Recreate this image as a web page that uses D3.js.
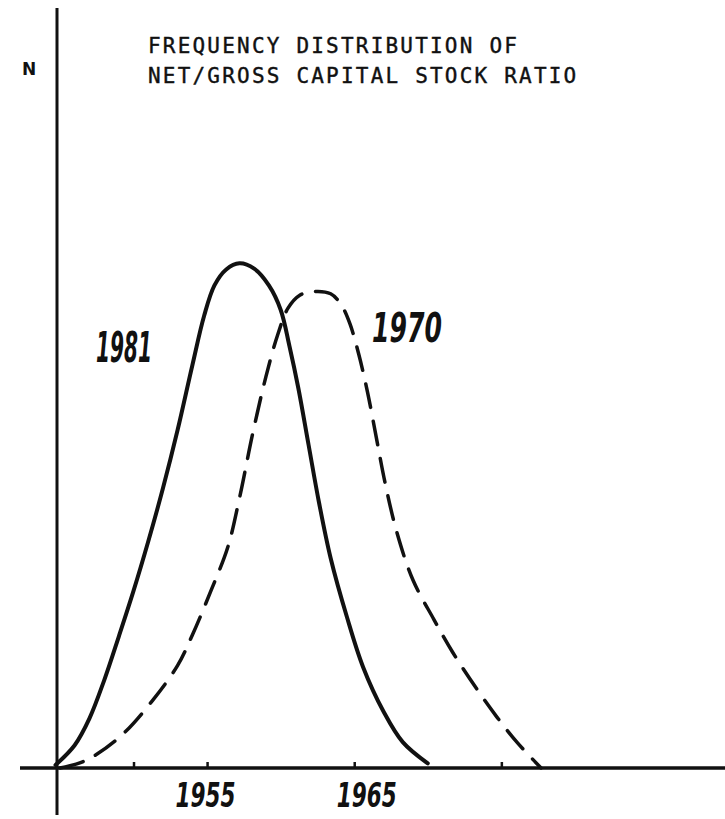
<!DOCTYPE html>
<html>
<head>
<meta charset="utf-8" />
<title>Frequency distribution of net/gross capital stock ratio</title>
<script src="https://d3js.org/d3.v7.min.js"></script>
<style>
  body { margin: 0; padding: 0; background: #fff; }
  svg { display: block; }
  .title { font-family: "DejaVu Sans Mono", monospace; font-size: 21px; letter-spacing: 2.2px; fill: #111; stroke: #111; stroke-width: 0.4px; }
  .hand { font-family: "DejaVu Sans", sans-serif; font-style: italic; font-weight: bold; fill: #111; }
</style>
</head>
<body>
<div id="chart"></div>
<script>

// 1981 curve (solid)
const years1981 = [1944.7, 1946.0, 1947.0, 1948.0, 1949.0, 1950.0, 1951.0, 1952.0, 1953.0, 1954.0, 1954.8, 1955.5, 1956.3, 1957.2, 1958.2, 1959.2, 1960.0, 1960.6, 1961.2, 1961.9, 1962.6, 1963.4, 1964.5, 1965.6, 1967.0, 1968.3, 1970.0]
const n1981     = [0.4, 3.0, 6.5, 11.5, 17.3, 23.3, 29.8, 36.8, 44.5, 53.0, 59.5, 63.5, 65.6, 66.4, 65.7, 63.5, 60.3, 55.5, 50.0, 42.5, 35.0, 27.6, 19.9, 13.3, 7.4, 3.4, 0.6]

// 1970 curve (dashed)
const years1970 = [1945.0, 1946.4, 1947.5, 1949.3, 1951.3, 1953.0, 1954.0, 1955.3, 1956.4, 1957.2, 1958.1, 1959.0, 1959.8, 1960.5, 1961.3, 1962.3, 1963.4, 1964.1, 1964.7, 1965.3, 1965.9, 1966.5, 1967.1, 1967.9, 1969.0, 1970.4, 1971.7, 1973.4, 1974.7, 1976.1, 1977.7]
const n1970     = [0.0, 0.7, 1.8, 4.5, 8.9, 13.5, 17.5, 23.5, 29.0, 35.5, 44.0, 51.5, 57.0, 60.5, 62.2, 62.7, 62.4, 61.0, 58.5, 54.5, 49.5, 43.5, 37.5, 31.0, 24.7, 19.6, 15.2, 10.2, 6.7, 3.3, 0.0]

const tickYears = [1950, 1955, 1965, 1975]
const labelYears = [1955, 1965]
const titleLines = ['FREQUENCY DISTRIBUTION OF', 'NET/GROSS CAPITAL STOCK RATIO']

const W = 725, H = 819

const svg = d3.select('#chart').append('svg')
  .attr('width', W)
  .attr('height', H)

const x = d3.scaleLinear().domain([1944.8, 1990.2]).range([57, 725])
const y = d3.scaleLinear().domain([0, 100]).range([768, 8])

// axes lines
svg.append('line')
  .attr('x1', 20).attr('x2', W)
  .attr('y1', y(0)).attr('y2', y(0))
  .attr('stroke', '#111').attr('stroke-width', 3.5)

svg.append('line')
  .attr('x1', x.range()[0]).attr('x2', x.range()[0])
  .attr('y1', y(100)).attr('y2', 815)
  .attr('stroke', '#111').attr('stroke-width', 3)

// ticks + labels
const xAxis = d3.axisBottom(x)
  .tickValues(tickYears)
  .tickSizeInner(-6)
  .tickSizeOuter(0)
  .tickPadding(15)
  .tickFormat(d => labelYears.includes(d) ? d : '')

const gx = svg.append('g')
  .attr('transform', 'translate(0,' + y(0) + ')')
  .call(xAxis)
gx.select('.domain').remove()
gx.selectAll('.tick line').attr('stroke', '#111').attr('stroke-width', 2.5)
gx.selectAll('.tick text')
  .attr('class', 'hand')
  .attr('dx', d => d == 1955 ? -2 : 12)
  .attr('textLength', 60)
  .attr('lengthAdjust', 'spacingAndGlyphs')
  .style('font-size', '34px')
  .attr('fill', '#111')

// curves
const line = d3.line()
  .x(d => x(d[0]))
  .y(d => y(d[1]))
  .curve(d3.curveCatmullRom.alpha(0.5))

svg.append('path')
  .datum(d3.zip(years1981, n1981))
  .attr('fill', 'none')
  .attr('stroke', '#111')
  .attr('stroke-width', 4)
  .attr('stroke-linecap', 'round')
  .attr('d', line)

svg.append('path')
  .datum(d3.zip(years1970, n1970))
  .attr('fill', 'none')
  .attr('stroke', '#111')
  .attr('stroke-width', 3.5)
  .attr('stroke-dasharray', '24,14')
  .attr('stroke-linecap', 'round')
  .attr('d', line)

// title
svg.selectAll('text.title')
  .data(titleLines)
  .enter()
  .append('text')
    .attr('class', 'title')
    .attr('x', 148)
    .attr('y', (d, i) => 53 + i * 30)
    .text(d => d)

// N label
svg.append('text')
  .attr('x', 22).attr('y', 75)
  .attr('font-family', 'DejaVu Sans, sans-serif')
  .attr('font-weight', 'bold')
  .attr('font-size', 17)
  .attr('fill', '#111')
  .text('N')

// series labels
svg.append('text')
  .attr('class', 'hand')
  .attr('x', 96).attr('y', 362)
  .attr('textLength', 56)
  .attr('lengthAdjust', 'spacingAndGlyphs')
  .style('font-size', '42px')
  .text('1981')

svg.append('text')
  .attr('class', 'hand')
  .attr('x', 372).attr('y', 342)
  .attr('textLength', 70)
  .attr('lengthAdjust', 'spacingAndGlyphs')
  .style('font-size', '40px')
  .text('1970')

</script>
</body>
</html>
